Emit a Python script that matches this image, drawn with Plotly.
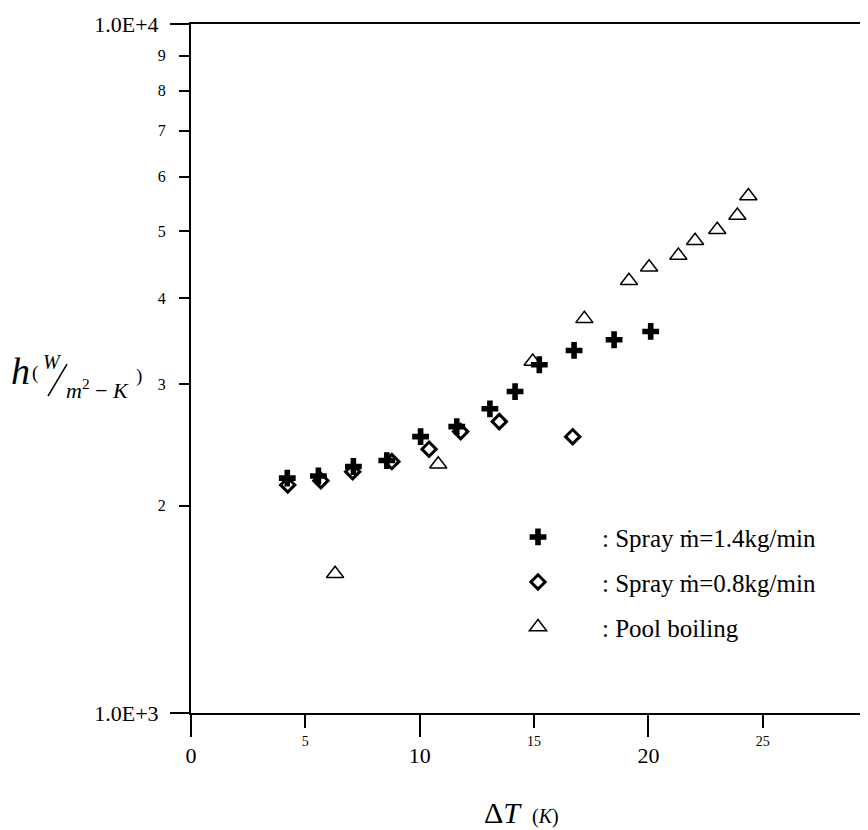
import plotly.graph_objects as go

# ---- data ----
spray14_dT = [4.21, 5.57, 7.10, 8.56, 10.04, 11.62, 13.07, 14.17, 15.23, 16.75, 18.50, 20.10]
spray14_h = [2192, 2208, 2279, 2325, 2518, 2604, 2764, 2928, 3202, 3359, 3481, 3579]

spray08_dT = [4.23, 5.68, 7.07, 8.78, 10.41, 11.79, 13.48, 16.69]
spray08_h = [2143, 2174, 2240, 2317, 2415, 2561, 2648, 2518]

pool_dT = [6.30, 10.81, 14.94, 17.20, 19.15, 20.03, 21.31, 22.04, 23.01, 23.89, 24.37]
pool_h = [1593, 2296, 3237, 3733, 4239, 4435, 4612, 4845, 5027, 5272, 5628]

x_minor_ticks = [5, 15, 25]
x_major_ticks = [0, 10, 20]
y_minor_ticks = [2000, 3000, 4000, 5000, 6000, 7000, 8000, 9000]
y_minor_text = ["2", "3", "4", "5", "6", "7", "8", "9"]
y_major_ticks = [1000, 10000]
y_major_text = ["1.0E+3", "1.0E+4"]

names = [": Spray \u1e41=1.4kg/min", ": Spray \u1e41=0.8kg/min", ": Pool boiling"]

FONT = "Liberation Serif"
OFF = 8  # default page margin of the html body
W, H = 860, 822
L, R, T, B = 183, 0, 16, 117.3
PW, PH = W - L - R, H - T - B


def px_x(px):
    return (px - OFF - L) / PW


def px_y(py):
    return (H - B - (py - OFF)) / PH


fig = go.Figure()
fig.add_trace(go.Scatter(
    x=spray14_dT, y=spray14_h, mode="markers", name=names[0], legendgroup="a",
    marker=dict(symbol="cross", size=14, color="black", line=dict(width=0))))
fig.add_trace(go.Scatter(
    x=spray08_dT, y=spray08_h, mode="markers", name=names[1], legendgroup="b",
    marker=dict(symbol="diamond-open", size=11, color="black", line=dict(width=3, color="black"))))
fig.add_trace(go.Scatter(
    x=pool_dT, y=pool_h, mode="markers", name=names[2], legendgroup="c",
    marker=dict(symbol="triangle-up-open", size=15, color="black", line=dict(width=1.5, color="black"))))

xr = [0, PW / 22.87]

fig.update_layout(
    width=W, height=H,
    margin=dict(l=L, r=R, t=T, b=B),
    paper_bgcolor="white", plot_bgcolor="white",
    font=dict(family=FONT, color="black"),
    showlegend=True,
    legend=dict(x=px_x(474), y=px_y(514), xanchor="left", yanchor="top",
                font=dict(family=FONT, size=25, color="black"),
                bgcolor="rgba(0,0,0,0)", itemwidth=118, tracegroupgap=9.5,
                traceorder="grouped", itemsizing="trace"),
    xaxis=dict(range=xr, showgrid=False, zeroline=False, showline=True, linecolor="black",
               linewidth=2, mirror=True, ticks="outside", tickvals=x_minor_ticks,
               ticklen=13, tickwidth=2, tickcolor="black", ticklabelstandoff=1,
               tickfont=dict(family=FONT, size=14, color="black")),
    xaxis2=dict(range=xr, overlaying="x", anchor="y", side="bottom", showgrid=False,
                zeroline=False, showline=False, ticks="outside", tickvals=x_major_ticks,
                ticklen=23, tickwidth=2, tickcolor="black", ticklabelstandoff=0,
                tickfont=dict(family=FONT, size=22, color="black")),
    yaxis=dict(type="log", range=[3, 4], showgrid=False, zeroline=False, showline=True,
               linecolor="black", linewidth=2, ticks="outside", tickvals=y_minor_ticks,
               ticktext=y_minor_text, ticklen=10, tickwidth=2, tickcolor="black",
               ticklabelstandoff=10, tickfont=dict(family=FONT, size=16, color="black")),
    yaxis2=dict(type="log", range=[3, 4], overlaying="y", anchor="x", side="left",
                showgrid=False, zeroline=False, showline=False, ticks="outside",
                tickvals=y_major_ticks, ticktext=y_major_text, ticklen=20, tickwidth=2,
                tickcolor="black", ticklabelstandoff=7,
                tickfont=dict(family=FONT, size=22, color="black")),
)
# dummy trace so xaxis2/yaxis2 get drawn
fig.add_trace(go.Scatter(x=[None], y=[None], xaxis="x2", yaxis="y2", showlegend=False,
                         hoverinfo="skip"))

ann = []


def add_text(txt, px, py, size, italic=False):
    ann.append(dict(text=(f"<i>{txt}</i>" if italic else txt), x=px_x(px), y=px_y(py),
                    xref="paper", yref="paper", xanchor="center", yanchor="middle",
                    showarrow=False, font=dict(family=FONT, size=size, color="black")))


# y-axis title  h(W / m^2 - K)
add_text("h", 21, 371, 38, italic=True)
add_text("(", 35, 373, 19)
add_text("W", 52, 362, 20, italic=True)
add_text("<i>m</i><sup>2</sup> \u2212 <i>K</i>", 97, 389, 22)
add_text(")", 139, 376, 19)
# x-axis title  ΔT(K)
add_text("\u0394<i>T</i>", 503, 812, 30)
add_text("(<i>K</i>)", 545, 816, 20)

fig.update_layout(annotations=ann)
fig.add_shape(type="line", xref="paper", yref="paper",
              x0=px_x(67), y0=px_y(364), x1=px_x(48), y1=px_y(396),
              line=dict(color="black", width=1.6))

fig.write_html("out.html", config={"displayModeBar": False})
